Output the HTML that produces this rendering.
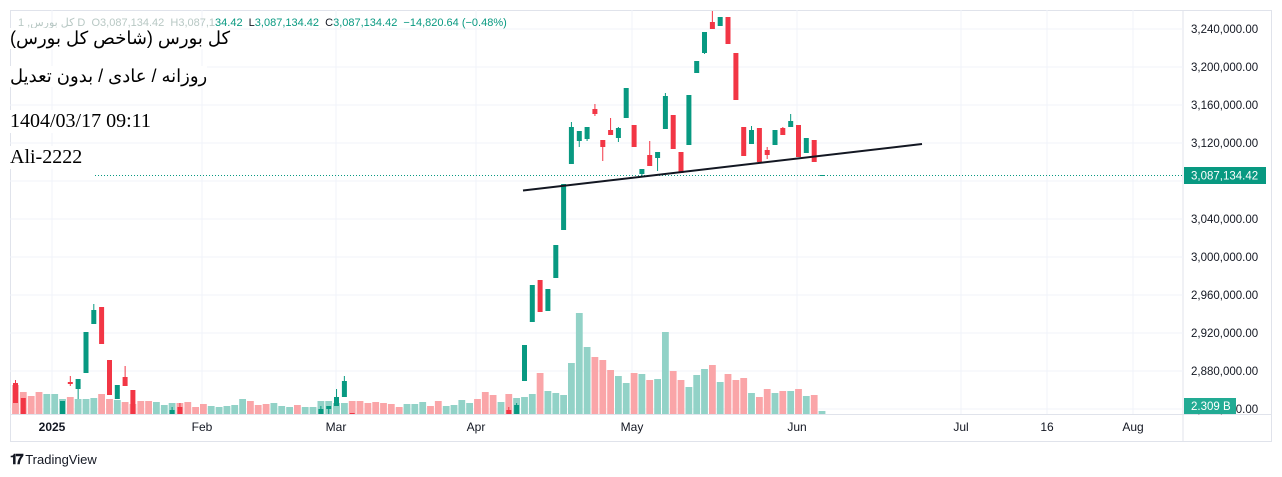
<!DOCTYPE html>
<html><head><meta charset="utf-8"><style>
body{margin:0;background:#fff;width:1282px;height:477px;overflow:hidden;font-family:"Liberation Sans",sans-serif}
svg{position:absolute;left:0;top:0}
.t{position:absolute;left:10px;background:#fff;color:#000;white-space:nowrap}
</style></head><body>
<svg id="s" width="1282" height="477" xmlns="http://www.w3.org/2000/svg"></svg>
<div class="t" style="top:16px;font-size:11px;color:#089981;background:none;left:18px"><span style="color:#b8c8c4">کل بورس, 1 D</span>&nbsp; <span style="color:#b8c8c4">O3,087,134.42 &nbsp;H3,087,1</span>34.42 &nbsp;<span style="color:#131722">L</span>3,087,134.42 &nbsp;<span style="color:#131722">C</span>3,087,134.42 &nbsp;−14,820.64 (−0.48%)</div>
<div class="t" style="top:28px;font-size:18px;font-family:'Liberation Sans','Noto Sans CJK SC',sans-serif;direction:rtl">کل بورس (شاخص کل بورس)</div>
<div class="t" style="top:66px;font-size:18px;font-family:'Liberation Sans','Noto Sans CJK SC',sans-serif;direction:rtl">روزانه / عادی / بدون تعدیل</div>
<div class="t" style="top:110px;font-size:20px;font-family:'Liberation Serif',serif">1404/03/17 09:11</div>
<div class="t" style="top:146px;font-size:20px;font-family:'Liberation Serif',serif">Ali-2222</div>
<div style="position:absolute;left:10px;top:451px;font-size:13px;color:#131722;font-weight:bold"><span style="font-size:14px;letter-spacing:-2px">𝟏𝟕</span> <span style="font-weight:normal">TradingView</span></div>
<script>
const s=document.getElementById('s');let h='';
const G='#089981',R='#f23645';
h+='<rect x="10.5" y="10.5" width="1261" height="431" fill="none" stroke="#e0e3eb"/>';
h+='<line x1="1183" y1="10" x2="1183" y2="442" stroke="#e0e3eb"/>';
h+='<line x1="10" y1="414.5" x2="1271" y2="414.5" stroke="#e0e3eb"/>';
const py=[3240,3200,3160,3120,3080,3040,3000,2960,2920,2880,2840];
py.forEach((p,k)=>{const y=29+k*38;if(y<414)h+=`<line x1="10" y1="${y}" x2="1183" y2="${y}" stroke="#f0f3fa"/>`;
 if(p!=3080)h+=`<text x="1191" y="${y+4}" font-size="11.5" fill="#131722">${(p/1000).toFixed(3).replace('.',',')},000.00</text>`;});
[52,202,336,476,632,797,961,1047,1133].forEach(x=>h+=`<line x1="${x}" y1="10" x2="${x}" y2="414" stroke="#f0f3fa"/>`);
const vol={0:['r',385],1:['r',392],2:['r',396],3:['r',392],4:['g',394],5:['g',394],6:['g',399],7:['r',397],8:['g',399],9:['g',399],10:['g',398],11:['r',394],12:['r',399],13:['g',400],14:['r',402],15:['r',404],16:['r',401],17:['r',401],18:['g',402],19:['g',405],20:['g',403],21:['r',403],22:['r',402],23:['r',407],24:['r',404],25:['g',406],26:['g',407],27:['g',406],28:['g',405],29:['g',399],30:['r',401],31:['r',405],32:['r',404],33:['g',403],34:['g',406],35:['g',407],36:['r',405],37:['g',407],38:['g',407],39:['g',401],40:['g',401],41:['g',403],42:['g',403],43:['r',401],44:['r',401],45:['r',403],46:['r',402],47:['r',403],48:['r',404],49:['r',407],50:['g',404],51:['g',404],52:['g',402],53:['r',406],54:['r',401],55:['g',406],56:['g',405],57:['g',400],58:['g',403],59:['r',399]};
const v2=[['r',392],['r',395],['g',402],['r',394],['g',398],['g',397],['g',394],['r',373],['g',391],['g',393],['g',395],['g',363],['g',313],['g',347],['r',357],['r',360],['r',370],['g',376],['g',383],['r',373],['g',374],['r',380],['g',379],['g',332],['r',371],['r',380],['g',387],['g',375],['g',369],['r',365],['g',382],['r',374],['r',380],['r',378],['g',393],['r',397],['r',389],['g',393],['r',391],['g',391],['r',389],['g',396],['r',395],['g',411]];
v2.forEach((v,k)=>vol[60+k]=v);
const cx=i=>15.5+7.83*i;
for(const i in vol){const [c,t]=vol[i];const x=cx(+i);h+=`<rect x="${(x-3.4).toFixed(1)}" y="${t}" width="6.8" height="${414-t}" fill="${c=='g'?'#92d2c7':'#faa5a8'}"/>`;}
const cd=[[0,'r',383,403,380,403],[1,'r',398,414],[6,'g',401,414],[7,'r',382,384,376,386],[8,'g',379,389,379,399],[9,'g',332,373],[10,'g',310,324,304,324],[11,'r',307,344],[12,'r',360,395],[13,'g',385,399],[14,'r',377,386,366,386],[15,'r',390,414],[20,'g',410,414,407,414],[21,'r',407,414,403,414],[39,'g',409,414,406,414],[40,'g',406,409,406,414],[41,'g',397,406,389,406],[42,'g',381,397,376,397],[43,'r',413,414],
[63,'r',410,414,407,414],[64,'g',405,414,403,414],[65,'g',345,381],[66,'g',285,322],[67,'r',280,312],[68,'g',289,311],[69,'g',245,278],[70,'g',184,230],[71,'g',127,164,122,164],[72,'g',131,141,131,147],[73,'g',127,139,127,141],[74,'r',109,114,104,116],[75,'r',140,147,140,161],[76,'r',130,135,118,135],[77,'g',128,138,127,142],[78,'g',88,118],[79,'r',125,147],[80,'g',169,174,169,176],[81,'r',155,166,141,166],[82,'g',152,158,152,171],[83,'g',96,129,93,129],[84,'r',115,149],[85,'r',152,173],[86,'g',95,145],[87,'g',61,73],[88,'g',32,53,32,54],[89,'r',22,29,11,29],[90,'g',17,26],[91,'r',17,44],[92,'r',53,100],[93,'r',127,156],[94,'g',130,144,126,144],[95,'r',128,162],[96,'r',150,155,147,159],[97,'g',130,145],[98,'r',128,135,127,135],[99,'g',121,127,114,127],[100,'r',125,157],[101,'g',138,153],[102,'r',140,162],[103,'g',175,176]];
cd.forEach(([i,c,a,b,w1,w2])=>{const x=cx(i),col=c=='g'?G:R;if(w1!==undefined)h+=`<line x1="${x}" y1="${w1}" x2="${x}" y2="${w2}" stroke="${col}"/>`;h+=`<rect x="${(x-2.5).toFixed(1)}" y="${a}" width="5" height="${Math.max(1,b-a)}" fill="${col}"/>`;});
h+='<line x1="95" y1="175.5" x2="1183" y2="175.5" stroke="#089981" stroke-dasharray="1,2"/>';
h+='<line x1="523" y1="190.5" x2="922" y2="144" stroke="#131722" stroke-width="2"/>';
h+='<rect x="1184" y="167" width="82" height="17" fill="#089981"/><text x="1191" y="179.5" font-size="11.5" fill="#fff">3,087,134.42</text>';
h+='<rect x="1184" y="398" width="52" height="16" fill="#22ab94"/><text x="1191" y="410" font-size="11.5" fill="#fff">2.309 B</text>';
[[52,'2025',1],[202,'Feb'],[336,'Mar'],[476,'Apr'],[632,'May'],[797,'Jun'],[961,'Jul'],[1047,'16'],[1133,'Aug']].forEach(([x,t,b])=>h+=`<text x="${x}" y="431" font-size="12" text-anchor="middle" fill="#131722"${b?' font-weight="bold"':''}>${t}</text>`);
s.innerHTML=h;
</script>
</body></html>
